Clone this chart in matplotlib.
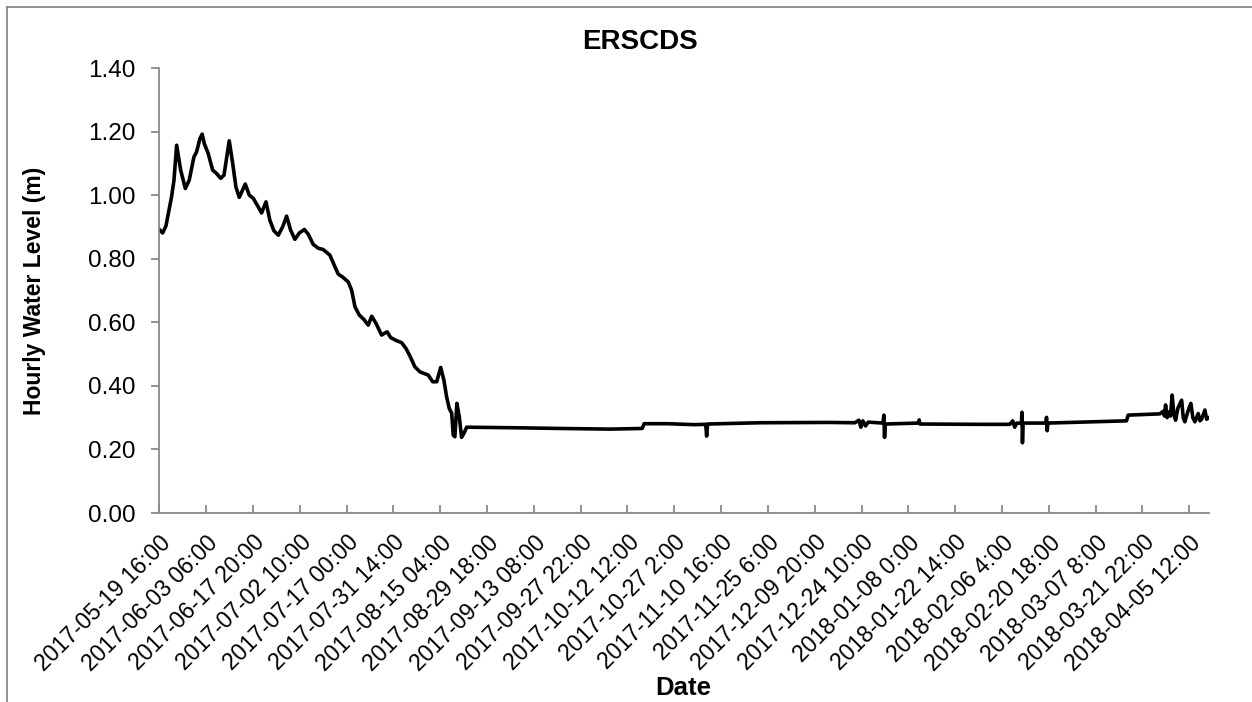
import matplotlib
matplotlib.use("Agg")
import matplotlib.pyplot as plt
from matplotlib.lines import Line2D

plt.rcParams['font.family'] = ['Liberation Sans', 'DejaVu Sans']

# hours since 2017-05-19 16:00 and hourly water level (m)
hours = [0, 25, 50, 92, 110, 130, 160, 195, 224, 259, 279, 304, 321, 336, 366,
         399, 429, 459, 484, 523, 549, 573, 598, 623, 643, 673, 703, 740, 765,
         798, 827, 857, 890, 922, 952, 982, 1014, 1047, 1085, 1114, 1151, 1189,
         1226, 1276, 1313, 1338, 1375, 1413, 1438, 1463, 1495, 1530, 1562, 1588,
         1620, 1662, 1704, 1730, 1775, 1812, 1844, 1874, 1911, 1949, 1979, 2011,
         2044, 2074, 2104, 2128, 2148, 2168, 2186, 2198, 2210, 2225, 2243, 2260,
         2278, 2298,
         2700, 3000, 3370, 3610, 3625, 3800, 4000, 4085, 4092, 4099, 4490, 5000,
         5200, 5230, 5245, 5260, 5280, 5300, 5410, 5417, 5422, 5428, 5676, 5681,
         5686, 6135, 6359, 6380, 6395, 6410, 6445, 6449, 6453, 6458, 6628, 6633,
         6638, 6643, 6900, 7231, 7243, 7480, 7505, 7515, 7523, 7535, 7548, 7560,
         7572, 7585, 7598, 7615, 7643, 7655, 7667, 7690, 7712, 7727, 7742, 7767,
         7780, 7792, 7817, 7830, 7847]
level = [0.892, 0.881, 0.903, 0.995, 1.047, 1.157, 1.079, 1.021, 1.047, 1.120,
         1.136, 1.178, 1.192, 1.163, 1.131, 1.079, 1.068, 1.053, 1.063, 1.171,
         1.100, 1.026, 0.993, 1.016, 1.035, 1.000, 0.990, 0.963, 0.944, 0.979,
         0.921, 0.888, 0.874, 0.900, 0.934, 0.890, 0.861, 0.881, 0.892, 0.877,
         0.845, 0.833, 0.829, 0.811, 0.775, 0.752, 0.741, 0.727, 0.701, 0.649,
         0.623, 0.609, 0.591, 0.619, 0.597, 0.560, 0.570, 0.552, 0.542, 0.536,
         0.518, 0.494, 0.460, 0.444, 0.439, 0.434, 0.413, 0.413, 0.458, 0.418,
         0.366, 0.329, 0.314, 0.245, 0.240, 0.345, 0.303, 0.238, 0.251, 0.270,
         0.268, 0.266, 0.264, 0.266, 0.281, 0.281, 0.278, 0.279, 0.242, 0.280,
         0.284, 0.285, 0.284, 0.292, 0.270, 0.290, 0.274, 0.286, 0.283, 0.308,
         0.238, 0.280, 0.283, 0.293, 0.280, 0.279, 0.279, 0.290, 0.270, 0.283,
         0.282, 0.317, 0.221, 0.283, 0.283, 0.301, 0.259, 0.283, 0.286, 0.290,
         0.308, 0.312, 0.320, 0.305, 0.340, 0.300, 0.318, 0.305, 0.371, 0.310,
         0.292, 0.330, 0.355, 0.300, 0.287, 0.320, 0.345, 0.300, 0.287, 0.313,
         0.290, 0.295, 0.324, 0.295, 0.300]

tick_hours = list(range(0, 7701, 350))
tick_labels = ["2017-05-19 16:00", "2017-06-03 06:00", "2017-06-17 20:00",
               "2017-07-02 10:00", "2017-07-17 00:00", "2017-07-31 14:00",
               "2017-08-15 04:00", "2017-08-29 18:00", "2017-09-13 08:00",
               "2017-09-27 22:00", "2017-10-12 12:00", "2017-10-27 2:00",
               "2017-11-10 16:00", "2017-11-25 6:00", "2017-12-09 20:00",
               "2017-12-24 10:00", "2018-01-08 0:00", "2018-01-22 14:00",
               "2018-02-06 4:00", "2018-02-20 18:00", "2018-03-07 8:00",
               "2018-03-21 22:00", "2018-04-05 12:00"]
y_ticks = [0.0, 0.2, 0.4, 0.6, 0.8, 1.0, 1.2, 1.4]

fig = plt.figure(figsize=(12.52, 7.02), dpi=100)
ax = fig.add_axes([0.1272, 0.2692, 0.8385, 0.6339])

ax.plot(hours, level, color='black', lw=2.6, solid_joinstyle='round')

ax.set_xlim(0, 7848)
ax.set_ylim(0, 1.4)
ax.set_yticks(y_ticks)
ax.set_yticklabels(["%.2f" % v for v in y_ticks], fontsize=17.5)
ax.set_xticks(tick_hours)
ax.set_xticklabels(tick_labels, rotation=45, ha='right', va='top',
                   rotation_mode='anchor', fontsize=16.5)

gray = '#898989'
for s in ['top', 'right']:
    ax.spines[s].set_visible(False)
for s in ['left', 'bottom']:
    ax.spines[s].set_color(gray)
    ax.spines[s].set_linewidth(1.3)
ax.tick_params(axis='y', direction='out', length=6, width=1.3, color=gray, pad=11)
ax.tick_params(axis='x', direction='in', length=6, width=1.3, color=gray, pad=13)

fig.text(0.511, 0.94, "ERSCDS", ha='center', va='center', fontsize=20,
         fontweight='bold')
fig.text(35 / 1252, 0.586, "Hourly Water Level (m)", rotation=90, ha='center',
         va='center', fontsize=16.5, fontweight='bold')
fig.text(0.5455, 0.02, "Date", ha='center', va='center', fontsize=18.5,
         fontweight='bold')

# chart border (cut by the image edge on the right and bottom)
fig.add_artist(Line2D([7 / 1252, 1.0], [1 - 7 / 702, 1 - 7 / 702],
                      color=gray, lw=1.3, transform=fig.transFigure))
fig.add_artist(Line2D([7 / 1252, 7 / 1252], [0.0, 1 - 7 / 702],
                      color=gray, lw=1.3, transform=fig.transFigure))

fig.savefig("out.png", dpi=100)
